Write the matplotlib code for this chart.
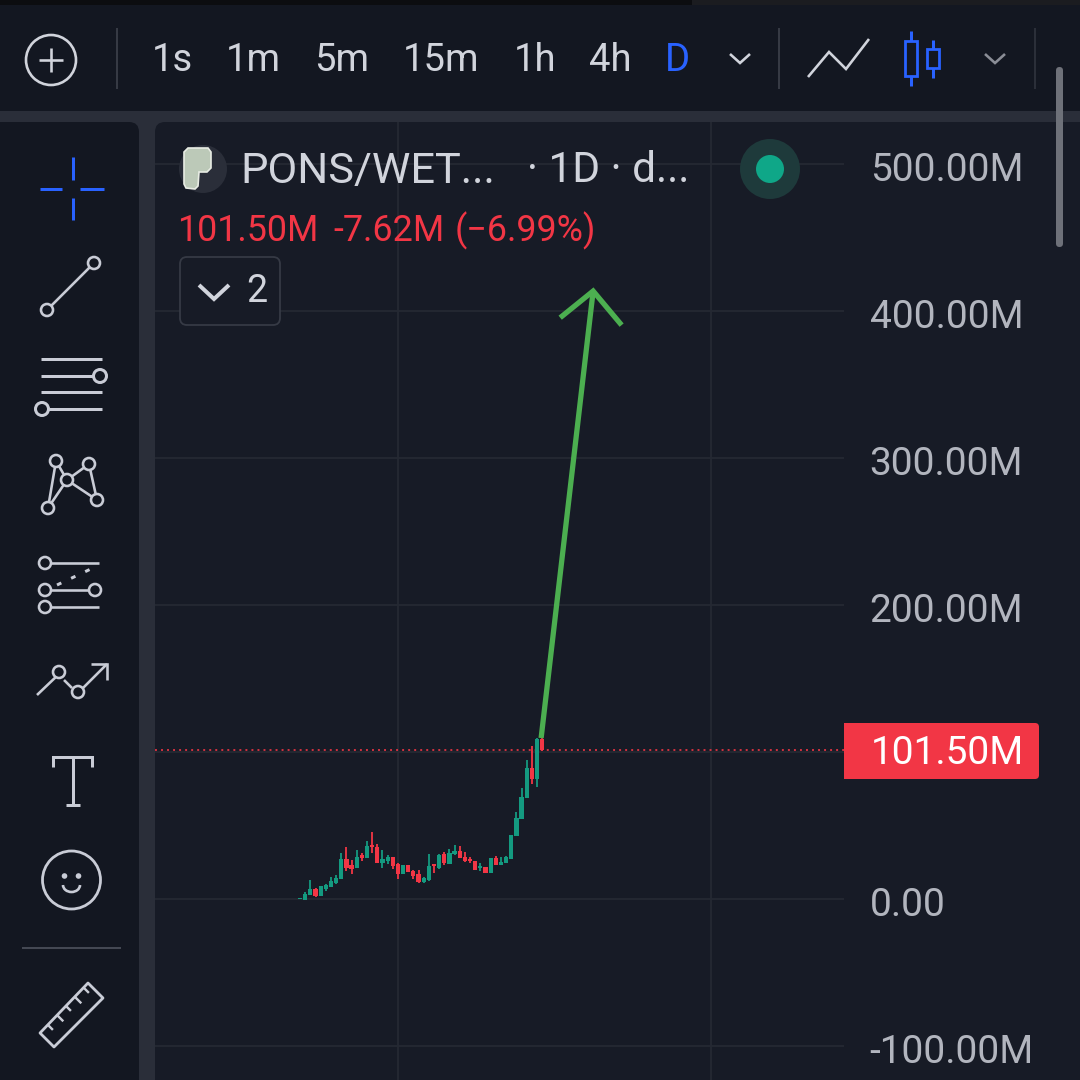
import matplotlib
matplotlib.use('Agg')
import matplotlib.pyplot as plt
from matplotlib.patches import Circle, FancyBboxPatch, Polygon, Rectangle, Arc
from matplotlib.transforms import ScaledTranslation
import numpy as np

plt.rcParams['font.family'] = ['Roboto', 'DejaVu Sans']

# Candles, in millions
opens = [-0.2, -0.5, 2.9, 7.0, 2.3, 6.8, 8.4, 10.7, 13.8, 27.2, 23.1, 21.1, 29.9, 27.9, 36.7, 35.4,
         24.5, 25.9, 28.4, 23.8, 17.0, 23.1, 19.1, 17.0, 11.6, 12.9, 23.6, 21.1, 30.6, 24.0, 30.6, 32.7,
         28.8, 27.2, 25.9, 21.1, 21.5, 17.7, 27.9, 23.1, 24.5, 27.2, 42.9, 54.4, 68.7, 89.1, 81.6, 109.1]
closes = [0.7, 3.4, 6.8, 2.3, 8.6, 9.5, 12.0, 14.3, 27.2, 21.1, 20.4, 28.6, 27.9, 36.3, 35.2, 24.5,
          27.2, 28.4, 22.5, 17.0, 23.4, 18.1, 15.9, 11.3, 14.3, 22.5, 22.5, 30.2, 24.5, 31.5, 32.7, 27.9,
          25.9, 25.9, 19.7, 22.5, 17.7, 27.9, 23.1, 25.2, 28.4, 43.5, 55.1, 69.4, 89.1, 81.6, 108.9, 101.5]
highs = [0.7, 4.8, 12.9, 7.7, 8.6, 10.2, 15.0, 16.6, 31.3, 35.4, 26.5, 33.6, 31.3, 39.5, 45.6, 37.4,
         33.3, 29.9, 28.6, 24.5, 23.4, 23.1, 19.7, 19.7, 15.0, 30.6, 24.0, 30.6, 32.0, 34.0, 36.7, 36.1,
         32.0, 28.6, 25.9, 24.5, 21.5, 27.9, 29.3, 28.6, 29.3, 43.5, 59.2, 75.5, 94.6, 104.1, 109.5, 111.0]
lows = [-0.2, -0.5, 2.9, 1.1, 2.3, 5.4, 8.4, 10.2, 13.8, 19.1, 17.0, 21.1, 25.9, 27.9, 31.3, 24.5,
        21.1, 23.8, 20.4, 13.6, 17.0, 18.1, 13.6, 10.9, 10.9, 12.2, 17.7, 20.4, 23.1, 24.0, 29.9, 27.9,
        25.2, 24.5, 19.7, 19.1, 17.7, 17.7, 23.1, 23.1, 24.5, 27.2, 42.9, 54.4, 68.7, 78.2, 76.2, 100.7]

# Green drawing on the chart (candle index, price in millions)
arrow_x = [46.8, 56.9]
arrow_y = [109.5, 413.6]
head_x = [50.9, 56.9, 62.1]
head_y = [396.6, 413.6, 391.8]

price_ticks = [-100, 0, 100, 200, 300, 400, 500]
time_grid = [19.0, 79.8]
last_price = 101.5

intervals = ['1s', '1m', '5m', '15m', '1h', '4h', 'D']
interval_x = [172, 253, 342, 441, 535, 610, 677]

BAR = '#131721'
PANEL = '#171b26'
GAP = '#2a2e39'
GRID = '#252933'
TEXT = '#d1d4dc'
ICON = '#c9ccd6'
BLUE = '#2962ff'
GREEN = '#149a80'
RED = '#f23645'
LABEL = '#b2b5be'

fig = plt.figure(figsize=(10.8, 10.8), dpi=100, facecolor=GAP)


def pixel_axes(z):
    a = fig.add_axes([0, 0, 1, 1], zorder=z)
    a.set_xlim(0, 1080)
    a.set_ylim(1080, 0)
    a.axis('off')
    a.patch.set_alpha(0)
    return a


back = pixel_axes(0)
front = pixel_axes(2)


def line(xs, ys, color=ICON, lw=2.6, a=None, **kw):
    (a or front).plot(xs, ys, color=color, lw=lw * 0.72, solid_capstyle=kw.pop('cap', 'butt'),
                      solid_joinstyle='miter', **kw)


def ring(x, y, r=6, color=ICON, lw=2.6):
    front.add_patch(Circle((x, y), r, fc=BAR, ec=color, lw=lw * 0.72, zorder=5))


# Panels
back.add_patch(Rectangle((0, 0), 1080, 111, fc=BAR, ec='none'))
back.add_patch(Rectangle((0, 0), 692, 5, fc='#0c0d10', ec='none'))
back.add_patch(Rectangle((692, 0), 388, 5, fc='#1b1c20', ec='none'))
back.add_patch(FancyBboxPatch((-20, 122), 159, 1000, boxstyle='round,pad=0,rounding_size=10', fc=BAR, ec='none'))
back.add_patch(FancyBboxPatch((155, 122), 1000, 1000, boxstyle='round,pad=0,rounding_size=10', fc=PANEL, ec='none'))

# Chart
ax = fig.add_axes([155 / 1080, 0, 689 / 1080, (1080 - 122) / 1080], zorder=1)
ax.patch.set_alpha(0)
ax.set_xlim(-28.16, 105.6)
ax.set_ylim(-123.1, 528.6)
for s in ax.spines.values():
    s.set_visible(False)
ax.set_xticks([])
ax.yaxis.tick_right()
ax.set_yticks(price_ticks)
ax.set_yticklabels(['-100.00M', '0.00', '', '200.00M', '300.00M', '400.00M', '500.00M'])
ax.tick_params(axis='y', length=0, pad=18.5, labelsize=28, labelcolor=LABEL)
shift = ScaledTranslation(0, -2 / 72 * 0.72 * 1.0, fig.dpi_scale_trans)
for t in ax.get_yticklabels():
    t.set_transform(t.get_transform() + shift)
for y in price_ticks:
    ax.axhline(y, color=GRID, lw=1.3, zorder=1)
for x in time_grid:
    ax.axvline(x, color=GRID, lw=1.3, zorder=1)
ax.axhline(last_price, color=RED, lw=1.4, ls=(0, (1.0, 2.1)), alpha=0.85, zorder=2)

idx = np.arange(len(opens))
colors = [GREEN if c >= o else RED for o, c in zip(opens, closes)]
ax.vlines(idx, lows, highs, colors=colors, lw=1.3, zorder=3)
ax.bar(idx, np.abs(np.array(closes) - np.array(opens)), bottom=np.minimum(opens, closes),
       width=0.82, color=colors, zorder=3)

ax.plot(arrow_x, arrow_y, color='#4caf50', lw=3.8, solid_capstyle='butt', zorder=4)
ax.plot(head_x, head_y, color='#4caf50', lw=3.8, solid_joinstyle='miter', zorder=4)

# Top toolbar
front.add_patch(Circle((51, 60), 25, fc='none', ec=TEXT, lw=1.9))
line([39, 63], [60, 60], TEXT)
line([51, 51], [48, 72], TEXT)
line([116.5, 116.5], [28, 89], '#3a3e49', 1.8)
line([778.5, 778.5], [28, 89], '#3a3e49', 1.8)
line([1034.5, 1034.5], [28, 89], '#2e323c', 1.8)
for label, x in zip(intervals, interval_x):
    front.text(x, 60.5, label, color=BLUE if label == 'D' else TEXT, fontsize=27.5, ha='center', va='center')
line([730, 740, 750], [54, 63, 54], TEXT)
line([985, 995, 1005], [54, 63, 54], '#8a8d96')
line([808, 829, 846, 869], [77, 52, 69, 39], TEXT)
for x, y0, y1, t0, t1, w in [(911, 41, 76, 31, 86, 12), (933, 49, 68, 40, 78, 12)]:
    front.add_patch(Rectangle((x - w / 2, y0), w, y1 - y0, fc='none', ec=BLUE, lw=2.0))
    line([x, x], [t0, y0], BLUE, 3)
    line([x, x], [y1, t1], BLUE, 3)

# Scrollbar
front.add_patch(FancyBboxPatch((1056, 67), 7, 180, boxstyle='round,pad=0,rounding_size=3.5',
                               fc='#6e7179', ec='none'))

# Legend
front.add_patch(Circle((203, 169), 24, fc=GAP, ec='none'))
front.add_patch(Polygon([(184, 152), (188, 148), (208, 148), (211, 152), (211, 168), (207, 172), (199, 172),
                         (198, 186), (195, 189), (186, 188), (184, 184)], fc='#bcc9b8', ec='#e8ece4', lw=1.2))
front.text(240, 171, 'PONS/WET...', color=TEXT, fontsize=31.2, va='center', ha='left')
front.text(527, 171, '· 1D · d...', color=TEXT, fontsize=30.5, va='center', ha='left')
front.add_patch(Circle((770, 169), 30, fc='#1e3a3b', ec='none'))
front.add_patch(Circle((770, 169), 14, fc='#0fa788', ec='none'))
front.text(177, 231, '101.50M', color=RED, fontsize=25.8, va='center', ha='left')
front.text(333, 231, '-7.62M', color=RED, fontsize=25.8, va='center', ha='left')
front.text(455, 231, '(−6.99%)', color=RED, fontsize=25.8, va='center', ha='left')
front.add_patch(FancyBboxPatch((180, 257), 100, 68, boxstyle='round,pad=0,rounding_size=7',
                               fc=PANEL, ec='#363a45', lw=1.3))
line([199, 214, 229], [285, 299, 285], TEXT, 4)
front.text(257, 292, '2', color=TEXT, fontsize=27, ha='center', va='center')

# Price tag
front.add_patch(FancyBboxPatch((844, 723), 195, 56, boxstyle='round,pad=0,rounding_size=4', fc=RED, ec='none'))
front.add_patch(Rectangle((844, 723), 10, 56, fc=RED, ec='none'))
front.text(871, 753, '101.50M', color='white', fontsize=28, ha='left', va='center')

# Left toolbar
line([72.5, 72.5], [157, 180], BLUE, 3)
line([72.5, 72.5], [198, 220], BLUE, 3)
line([40, 62], [188.5, 188.5], BLUE, 3)
line([80, 104], [188.5, 188.5], BLUE, 3)

line([47, 94], [310, 263])
ring(47, 310)
ring(94, 263)

for y, x0, x1 in [(359, 41, 102), (376, 41, 100), (392, 41, 102), (409, 42, 102)]:
    line([x0, x1], [y, y], lw=3)
ring(100, 376, 6.5, lw=3)
ring(42, 409, 6.5, lw=3)

pts_x = [48, 56, 67, 89, 97]
pts_y = [508, 461, 480, 464, 500]
line([pts_x[0], pts_x[1], pts_x[2], pts_x[4], pts_x[3], pts_x[2], pts_x[0]],
     [pts_y[0], pts_y[1], pts_y[2], pts_y[4], pts_y[3], pts_y[2], pts_y[0]])
for x, y in zip(pts_x, pts_y):
    ring(x, y)

line([45, 99], [563, 563])
line([45, 95], [590, 590])
line([45, 99], [607, 607])
line([57, 95], [585, 567], ls=(0, (1.6, 3.6)), lw=3)
for x, y in [(45, 563), (45, 590), (95, 590), (45, 607)]:
    ring(x, y)

line([37, 59], [695, 674])
line([64, 72], [680, 688])
line([83, 107], [688, 664])
line([91, 107, 107], [664, 664, 680])
ring(59, 672)
ring(78, 692)

line([53, 53, 92, 92], [767, 757, 757, 767], lw=3)
line([73, 73], [757, 804], lw=3)
line([66, 80], [805, 805], lw=3)

front.add_patch(Circle((71.5, 880), 29, fc='none', ec=ICON, lw=2.0))
front.add_patch(Circle((64.5, 876), 2.8, fc=ICON, ec='none'))
front.add_patch(Circle((78.5, 876), 2.8, fc=ICON, ec='none'))
front.add_patch(Arc((71.5, 885), 17, 14, theta1=0, theta2=180, ec=ICON, lw=1.9))

line([22, 121], [948, 948], '#4a4e59', 1.8)

ruler = np.array([[40, 1033], [88, 983], [103, 998], [54, 1047]])
front.add_patch(Polygon(ruler, fc='none', ec=ICON, lw=2.0, joinstyle='round'))
for x, y, n in [(48, 1025, 7), (57, 1015, 9), (66, 1006, 7), (75, 997, 9), (84, 988, 7)]:
    line([x, x + n * 0.7], [y, y + n * 0.7], lw=2.4)

fig.savefig('out.png', dpi=100, facecolor=fig.get_facecolor())
